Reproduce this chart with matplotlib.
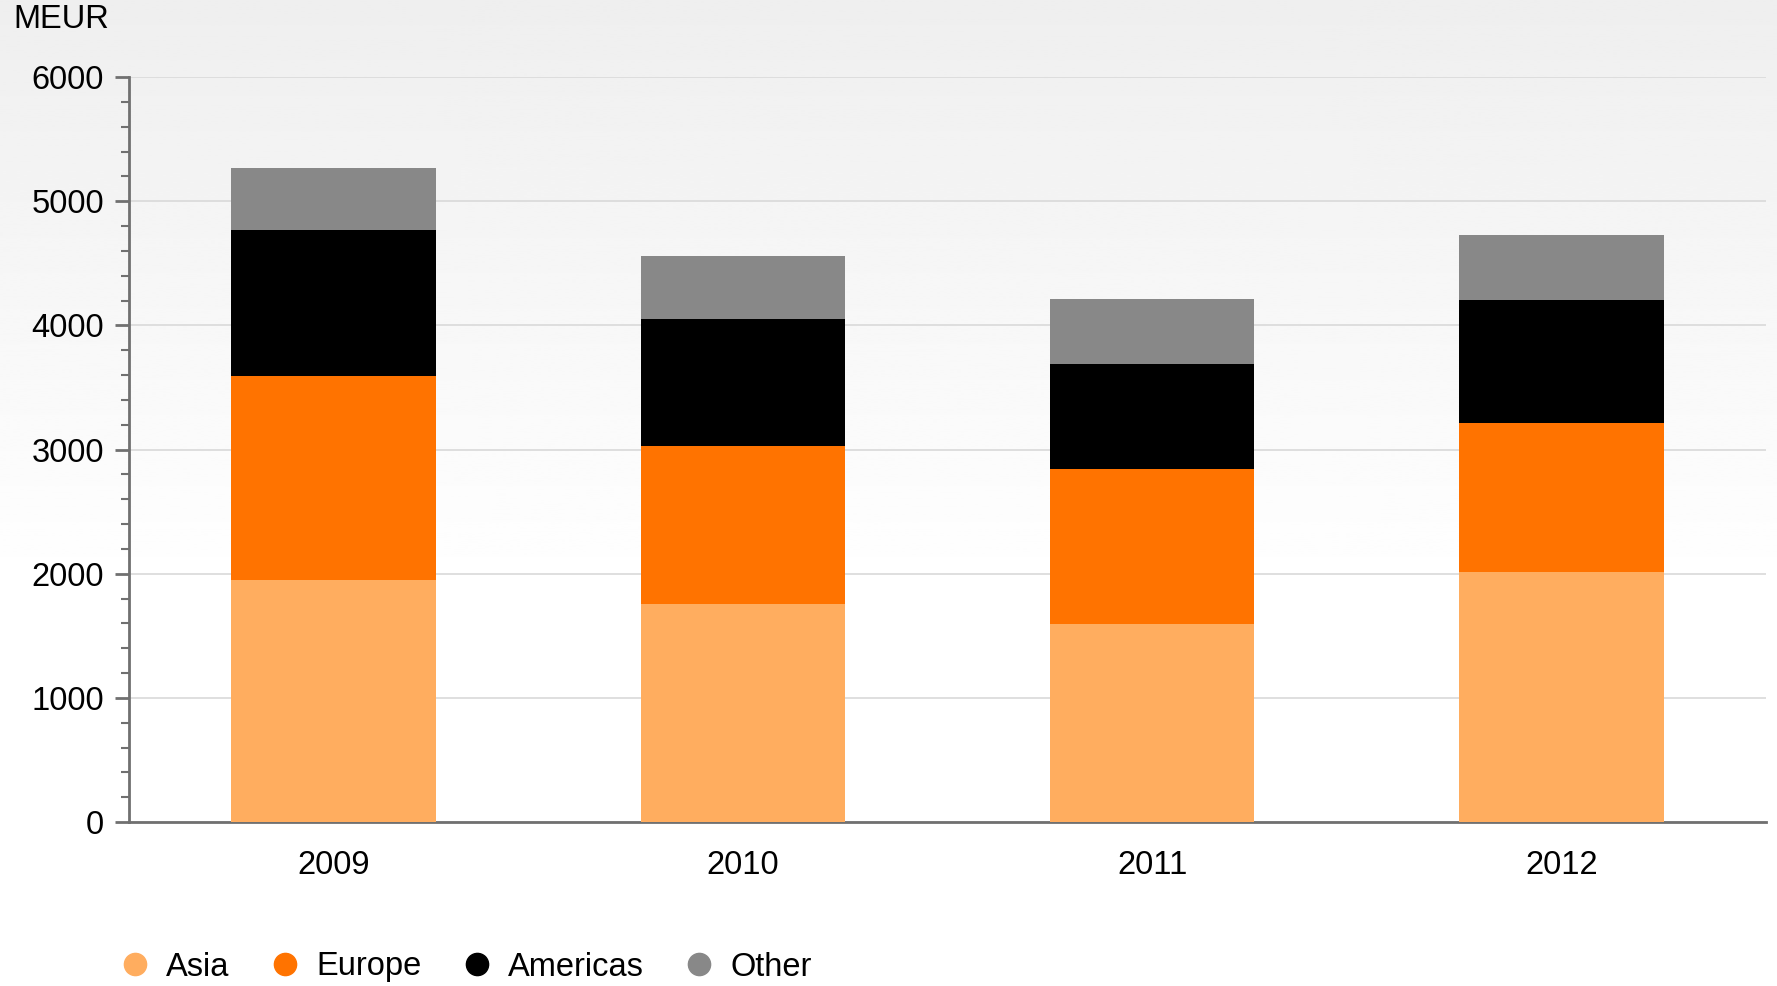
import numpy as np
import matplotlib
matplotlib.use("Agg")
import matplotlib.pyplot as plt
from matplotlib.lines import Line2D
from matplotlib.ticker import MultipleLocator

# data (MEUR)
years = ["2009", "2010", "2011", "2012"]
asia = [1945, 1755, 1597, 2013]
europe = [1650, 1270, 1248, 1200]
americas = [1170, 1030, 846, 993]
other = [500, 500, 521, 524]

series = [("Asia", asia, "#ffad5f"),
          ("Europe", europe, "#ff7300"),
          ("Americas", americas, "#000000"),
          ("Other", other, "#888888")]

plt.rcParams['font.family'] = ['Liberation Sans', 'DejaVu Sans']
FS = 23.5

fig = plt.figure(figsize=(17.77, 9.86), dpi=100)

# soft grey-to-white gradient behind everything
bg = fig.add_axes([0, 0, 1, 1], zorder=-10)
grad = np.clip(0.935 + 0.065 * np.linspace(0, 1, 500) / 0.6, 0, 1)[:, None]
bg.imshow(np.repeat(grad, 2, axis=1), cmap="gray", vmin=0, vmax=1,
          aspect="auto", extent=[0, 1, 0, 1])
bg.axis("off")

ax = fig.add_axes([129 / 1777, 1 - 822 / 986, (1766 - 129) / 1777, (822 - 77) / 986])
ax.set_facecolor("none")

x = np.arange(len(years))
bottom = np.zeros(len(years))
for name, vals, col in series:
    ax.bar(x, vals, width=0.5, bottom=bottom, color=col, label=name, zorder=3)
    bottom += np.array(vals)

ax.set_xlim(-0.5, len(years) - 0.5)
ax.set_ylim(0, 6000)
ax.yaxis.set_major_locator(MultipleLocator(1000))
ax.yaxis.set_minor_locator(MultipleLocator(200))
ax.grid(axis="y", color="#d9d9d9", linewidth=1.2, zorder=0)

ax.set_xticks(x)
ax.set_xticklabels(years)
ax.tick_params(axis="x", length=0, pad=20, labelsize=FS)
ax.tick_params(axis="y", which="major", length=10, width=2, color="#707070",
               pad=8, labelsize=FS)
ax.tick_params(axis="y", which="minor", length=6, width=1.5, color="#707070")

for s in ["top", "right"]:
    ax.spines[s].set_visible(False)
for s in ["left", "bottom"]:
    ax.spines[s].set_color("#707070")
    ax.spines[s].set_linewidth(2)

fig.text(13 / 1777, 1 - 20 / 986, "MEUR", fontsize=FS, va="center", ha="left")

handles = [Line2D([], [], marker="o", linestyle="none", markersize=16,
                  markerfacecolor=col, markeredgecolor=col) for _, _, col in series]
fig.legend(handles, [s[0] for s in series], loc="center left",
           bbox_to_anchor=(119 / 1777, 1 - 967 / 986), ncol=4, frameon=False,
           fontsize=FS, handlelength=1.0, handletextpad=0.45, columnspacing=1.2,
           borderaxespad=0, borderpad=0)

fig.savefig("out.png", dpi=100)
